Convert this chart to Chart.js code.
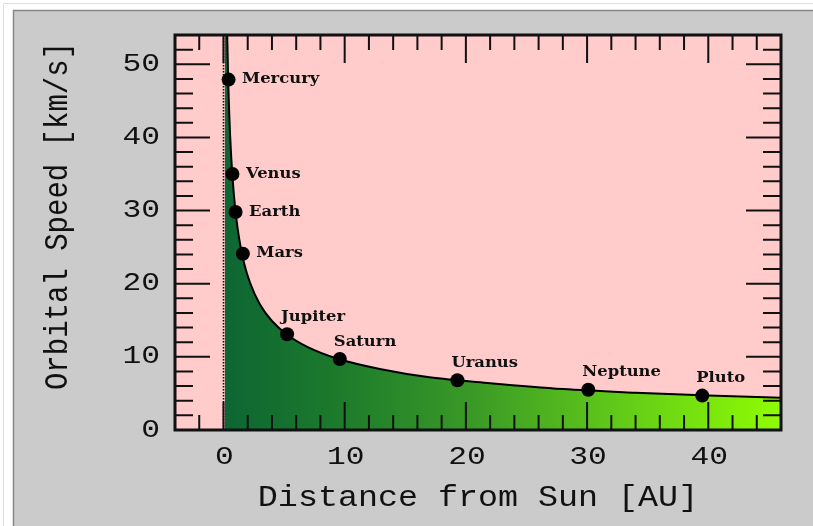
<!DOCTYPE html>
<html>
<head>
<meta charset="utf-8">
<script src="https://cdn.jsdelivr.net/npm/chart.js@4.4.1/dist/chart.umd.min.js"></script>
<style>
  html, body { margin: 0; padding: 0; background: #ffffff; }
  canvas { display: block; }
</style>
</head>
<body>
<canvas id="myChart" width="813" height="526"></canvas>
<script>
// planets: mean distance [AU] and orbital speed [km/s]
const planetNames = ['Mercury', 'Venus', 'Earth', 'Mars', 'Jupiter', 'Saturn', 'Uranus', 'Neptune', 'Pluto'];
const planetDist = [0.42, 0.74, 1.0, 1.6, 5.25, 9.6, 19.3, 30.1, 39.5];
const planetSpeed = [47.9, 35.0, 29.8, 24.1, 13.1, 9.7, 6.8, 5.5, 4.7];

// the curve
const curveDist = [0.1, 0.22, 0.3, 0.4, 0.55, 0.75, 1.0, 1.3, 1.7, 2.2, 3, 4, 5.2, 7, 9.5, 13, 17, 22, 28, 34, 40, 46];
const curveSpeed = [94, 63.5, 54.4, 47.1, 40.2, 34.4, 29.8, 26.1, 22.8, 20.1, 17.2, 14.9, 13.1, 11.3, 9.7, 8.3, 7.2, 6.4, 5.6, 5.1, 4.7, 4.4];

// tick labels
const xTickLabels = [0, 10, 20, 30, 40];
const yTickLabels = [0, 10, 20, 30, 40, 50];

const xTitle = 'Distance from Sun [AU]';
const yTitle = 'Orbital Speed [km/s]';

// draws text stretched sideways, like the original picture
function drawText(ctx, text, x, y, sx, align) {
    ctx.save();
    ctx.translate(x, y);
    ctx.scale(sx, 1);
    ctx.textAlign = align;
    ctx.textBaseline = 'middle';
    ctx.fillText(text, 0, 0);
    ctx.restore();
}

const framePlugin = {
    id: 'frame',
    beforeDraw(chart) {
        const ctx = chart.ctx;
        const a = chart.chartArea;
        ctx.save();
        ctx.fillStyle = '#ffffff';
        ctx.fillRect(0, 0, chart.width, chart.height);
        // faint outer line
        ctx.strokeStyle = '#e2dfda';
        ctx.lineWidth = 1;
        ctx.beginPath();
        ctx.moveTo(3.5, chart.height);
        ctx.lineTo(3.5, 3.5);
        ctx.lineTo(chart.width, 3.5);
        ctx.stroke();
        // grey panel
        ctx.fillStyle = '#cbcbcb';
        ctx.fillRect(13, 10, chart.width - 13, chart.height - 10);
        ctx.strokeStyle = '#888888';
        ctx.lineWidth = 1.5;
        ctx.beginPath();
        ctx.moveTo(13.5, chart.height);
        ctx.lineTo(13.5, 10.5);
        ctx.lineTo(chart.width, 10.5);
        ctx.stroke();
        // plot background
        ctx.fillStyle = '#ffcbcb';
        ctx.fillRect(a.left, a.top, a.right - a.left, a.bottom - a.top);
        ctx.restore();
    },
    afterDatasetsDraw(chart) {
        const ctx = chart.ctx;
        const a = chart.chartArea;
        const xs = chart.scales.x;
        const ys = chart.scales.y;
        ctx.save();

        // dotted line at x = 0
        const x0 = Math.round(xs.getPixelForValue(0)) + 0.5;
        ctx.strokeStyle = '#000';
        ctx.lineWidth = 1.5;
        ctx.setLineDash([1.5, 1.5]);
        ctx.beginPath();
        ctx.moveTo(x0, a.top);
        ctx.lineTo(x0, a.bottom);
        ctx.stroke();
        ctx.setLineDash([]);

        // ticks pointing inward, on all four sides
        ctx.lineWidth = 2;
        ctx.strokeStyle = '#111';
        ctx.beginPath();
        for (let v = xs.min + 2; v < xs.max; v += 2) {
            const px = xs.getPixelForValue(v);
            const major = v % 10 === 0;
            const len = major ? 28 : 15;
            ctx.moveTo(px, a.bottom);
            ctx.lineTo(px, a.bottom - len);
            ctx.moveTo(px, a.top);
            ctx.lineTo(px, a.top + len);
        }
        for (let v = ys.min + 2; v < ys.max; v += 2) {
            const py = ys.getPixelForValue(v);
            const major = v % 10 === 0;
            const len = major ? 35 : 18;
            ctx.moveTo(a.left, py);
            ctx.lineTo(a.left + len, py);
            ctx.moveTo(a.right, py);
            ctx.lineTo(a.right - len, py);
        }
        ctx.stroke();

        // frame
        ctx.lineWidth = 3;
        ctx.strokeStyle = '#111';
        ctx.strokeRect(a.left, a.top, a.right - a.left, a.bottom - a.top);

        // tick labels
        ctx.fillStyle = '#111';
        ctx.font = '25px "Liberation Mono"';
        xTickLabels.forEach(v => {
            drawText(ctx, String(v), xs.getPixelForValue(v) + 1, 457, 1.25, 'center');
        });
        yTickLabels.forEach(v => {
            drawText(ctx, String(v), 160, ys.getPixelForValue(v), 1.25, 'right');
        });

        // axis titles
        ctx.font = '29px "Liberation Mono"';
        drawText(ctx, xTitle, (a.left + a.right) / 2, 498, 1.15, 'center');
        ctx.save();
        ctx.translate(58, 216);
        ctx.rotate(-Math.PI / 2);
        ctx.scale(1, 1.12);
        ctx.textAlign = 'center';
        ctx.textBaseline = 'middle';
        ctx.fillText(yTitle, 0, 0);
        ctx.restore();

        // planet names
        ctx.font = 'bold 14px "DejaVu Serif"';
        planetNames.forEach((name, i) => {
            const px = xs.getPixelForValue(planetDist[i]);
            const py = ys.getPixelForValue(planetSpeed[i]);
            if (i < 4) {
                drawText(ctx, name, px + 13.5, py, 1.17, 'left');
            } else {
                drawText(ctx, name, px - 6, py - 17, 1.17, 'left');
            }
        });
        ctx.restore();
    }
};

const ctx = document.getElementById('myChart').getContext('2d');

new Chart(ctx, {
    type: 'line',
    data: {
        datasets: [
            {
                label: 'Planets',
                data: planetDist.map((d, i) => ({ x: d, y: planetSpeed[i] })),
                showLine: false,
                pointRadius: 7,
                pointBackgroundColor: '#000',
                pointBorderColor: '#000',
                pointBorderWidth: 0
            },
            {
                label: 'Speed',
                data: curveDist.map((d, i) => ({ x: d, y: curveSpeed[i] })),
                borderColor: '#000',
                borderWidth: 2,
                pointRadius: 0,
                cubicInterpolationMode: 'monotone',
                fill: 'origin',
                backgroundColor: function(context) {
                    const chart = context.chart;
                    const a = chart.chartArea;
                    if (!a) return '#1e7d2b';
                    const x0 = chart.scales.x.getPixelForValue(0);
                    const g = chart.ctx.createLinearGradient(x0, 0, a.right, 0);
                    g.addColorStop(0, '#0d6633');
                    g.addColorStop(0.2, '#1c7a2c');
                    g.addColorStop(0.45, '#3a9a26');
                    g.addColorStop(0.7, '#60c81a');
                    g.addColorStop(1, '#8ffd02');
                    return g;
                }
            }
        ]
    },
    options: {
        responsive: false,
        animation: false,
        devicePixelRatio: 1,
        layout: { padding: { top: 35, right: 32, left: 0, bottom: 0 } },
        plugins: {
            legend: { display: false },
            tooltip: { enabled: false }
        },
        scales: {
            x: {
                type: 'linear',
                min: -4,
                max: 46,
                ticks: { display: false },
                grid: { display: false },
                border: { display: false },
                afterFit: function(scale) { scale.height = 96; }
            },
            y: {
                type: 'linear',
                min: 0,
                max: 54,
                ticks: { display: false },
                grid: { display: false },
                border: { display: false },
                afterFit: function(scale) { scale.width = 175; }
            }
        }
    },
    plugins: [framePlugin]
});
</script>
</body>
</html>
